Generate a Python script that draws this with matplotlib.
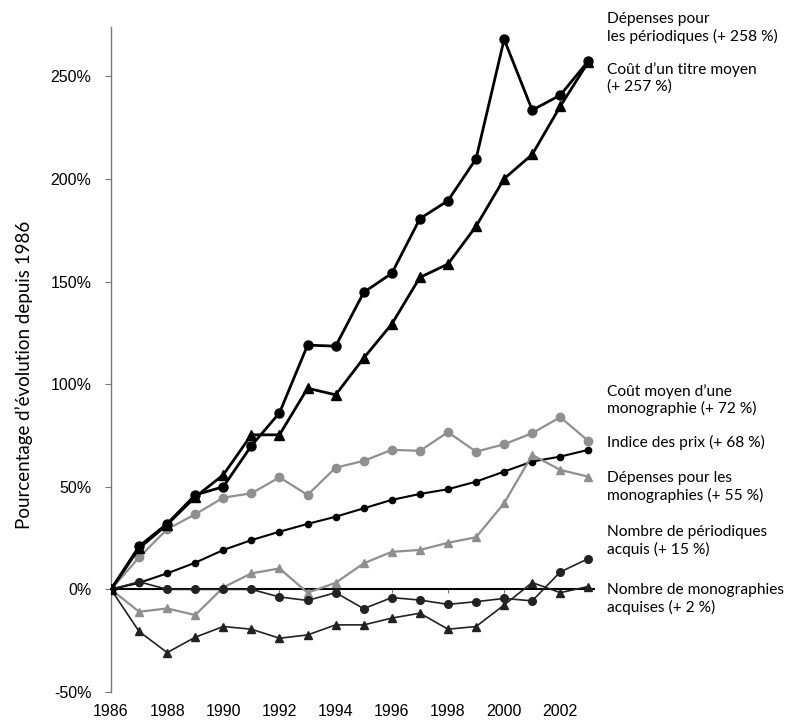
import matplotlib
matplotlib.use("Agg")
import matplotlib.pyplot as plt
import matplotlib.transforms as mtransforms

years = list(range(1986, 2004))

dep_periodiques = [0, 21, 32, 46, 50, 70, 86, 119, 118.5, 144.7, 154, 180.6, 189.4, 209.8, 268, 233.5, 240.8, 257.5]
cout_titre = [0, 20, 31.6, 45, 55.8, 75.3, 75.3, 98, 94.8, 112.7, 129.3, 152, 158.5, 176.9, 200.1, 211.9, 235.4, 257]
cout_monographie = [0, 15.6, 29.3, 36.6, 44.7, 46.8, 54.6, 46, 59.3, 62.6, 68, 67.5, 76.6, 67.1, 70.7, 76.1, 83.9, 72.3]
indice_prix = [0, 3.2, 7.8, 13, 19.2, 24, 28.1, 31.9, 35.4, 39.5, 43.6, 46.5, 48.8, 52.5, 57.4, 62.3, 64.7, 68]
dep_monographies = [0, -10.9, -9.3, -12.5, 1, 7.8, 10.2, -1.6, 3.2, 12.7, 18.3, 19.2, 22.7, 25.4, 42, 65.5, 58.2, 54.9]
nb_periodiques = [0, 3.7, 0, 0, 0, 0, -3.7, -5.4, -1.6, -9.4, -4, -5.2, -7.3, -6, -4.4, -5.6, 8.5, 15]
nb_monographies = [0, -20.5, -30.8, -23.3, -18.1, -19.4, -23.8, -22.2, -17.3, -17.3, -14, -11.6, -19.4, -18.1, -7.6, 3.3, -1.6, 1.4]

ytick_vals = [-50, 0, 50, 100, 150, 200, 250]
ytick_labels = ["-50%", "0%", "50%", "100%", "150%", "200%", "250%"]
xtick_years = list(range(1986, 2003, 2))

right_labels = [
    ("Dépenses pour\nles périodiques (+ 258 %)", 28),
    ("Coût d\u2019un titre moyen\n(+ 257 %)", 78),
    ("Coût moyen d\u2019une\nmonographie (+ 72 %)", 400),
    ("Indice des prix (+ 68 %)", 442),
    ("Dépenses pour les\nmonographies (+ 55 %)", 487),
    ("Nombre de périodiques\nacquis (+ 15 %)", 541),
    ("Nombre de monographies\nacquises (+ 2 %)", 599),
]

W, H = 786, 725
fig = plt.figure(figsize=(W / 100, H / 100), dpi=100)
left, right, top, bottom = 111, 594, 27, 692
ax = fig.add_axes([left / W, 1 - bottom / H, (right - left) / W, (bottom - top) / H])

gray = "#8f8f8f"
ax.plot(years, dep_periodiques, color="black", lw=2.0, marker="o", ms=6.5, zorder=5)
ax.plot(years, cout_titre, color="black", lw=2.0, marker="^", ms=6.5, zorder=5)
ax.plot(years, cout_monographie, color=gray, lw=1.6, marker="o", ms=6, zorder=4)
ax.plot(years, indice_prix, color="black", lw=1.5, marker="o", ms=4.5, zorder=4)
ax.plot(years, dep_monographies, color=gray, lw=1.6, marker="^", ms=6, zorder=4)
ax.plot(years, nb_periodiques, color="#222222", lw=1.2, marker="o", ms=5.5, zorder=4)
ax.plot(years, nb_monographies, color="#222222", lw=1.2, marker="^", ms=5.5, zorder=4)

ax.set_xlim(1986, 2003.2)
ax.set_ylim(-50, 274)

for s in ["top", "right"]:
    ax.spines[s].set_visible(False)
ax.spines["left"].set_color("#777777")
ax.spines["left"].set_linewidth(1.0)
ax.spines["bottom"].set_position(("data", 0))
ax.spines["bottom"].set_color("black")
ax.spines["bottom"].set_linewidth(1.5)
ax.spines["bottom"].set_zorder(3)

ax.set_yticks(ytick_vals)
ax.set_yticklabels(ytick_labels, fontsize=11.5, family="Liberation Sans")
ax.tick_params(axis="y", length=4, color="#777777", pad=10)
ax.set_xticks(xtick_years)
ax.tick_params(axis="x", length=3, color="#777777", labelbottom=False)

trans = mtransforms.blended_transform_factory(ax.transData, fig.transFigure)
for yr in xtick_years:
    ax.text(yr, 1 - 712 / H, str(yr), transform=trans, ha="center", va="center",
            fontsize=11.5, family="Liberation Sans")

fig.text(24 / W, 1 - 375 / H, "Pourcentage d\u2019évolution depuis 1986", rotation=90,
         ha="center", va="center", fontsize=13.5, family="Lato")

for txt, yc in right_labels:
    fig.text(607 / W, 1 - yc / H, txt, ha="left", va="center", fontsize=11.2,
             family="Lato", linespacing=1.2)

fig.savefig("out.png", dpi=100)
